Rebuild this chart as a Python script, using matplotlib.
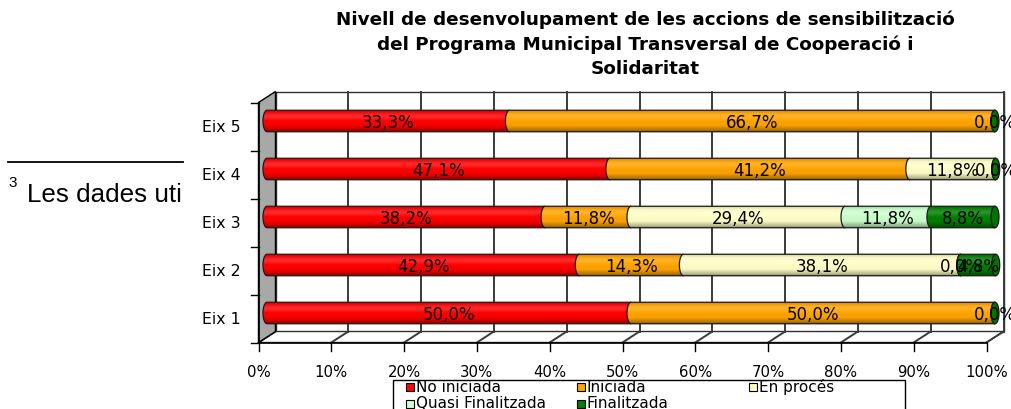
import numpy as np
import matplotlib
matplotlib.use("Agg")
import matplotlib.pyplot as plt
from matplotlib.patches import PathPatch, Polygon, Rectangle
from matplotlib.path import Path
from matplotlib.lines import Line2D
from matplotlib.colors import to_rgb

plt.rcParams['font.family'] = ['DejaVu Sans']

# ---------------- data ----------------
categories = ["Eix 1", "Eix 2", "Eix 3", "Eix 4", "Eix 5"]
series = ["No iniciada", "Iniciada", "En procés", "Quasi Finalitzada", "Finalitzada"]
no_iniciada = [50.0, 42.9, 38.2, 47.1, 33.3]
iniciada = [50.0, 14.3, 11.8, 41.2, 66.7]
en_proces = [np.nan, 38.1, 29.4, 11.8, np.nan]
quasi_finalitzada = [np.nan, 0.0, 11.8, np.nan, np.nan]
finalitzada = [0.0, 4.8, 8.8, 0.0, 0.0]
x_ticks = [0, 10, 20, 30, 40, 50, 60, 70, 80, 90, 100]
x_tick_labels = ["0%", "10%", "20%", "30%", "40%", "50%", "60%", "70%", "80%", "90%", "100%"]
title = ("Nivell de desenvolupament de les accions de sensibilització\n"
         "del Programa Municipal Transversal de Cooperació i\n"
         "Solidaritat")

colors = ["#FF0000", "#FFA500", "#FFFFC8", "#CCFFCC", "#008000"]
values = [no_iniciada, iniciada, en_proces, quasi_finalitzada, finalitzada]

# ---------------- layout ----------------
W, H = 1011, 409
fig = plt.figure(figsize=(W / 100, H / 100), dpi=100)
PX, PY = 7.28, 48.0       # pixels per x unit / per category
X0, Y0 = 267.0, 313.0     # pixel of x=0, of first category centre
xlo, xhi, ylo, yhi = -3, 102, -0.8, 4.8
ax = fig.add_axes([(X0 + xlo * PX) / W, (H - (Y0 - ylo * PY)) / H,
                   (xhi - xlo) * PX / W, (yhi - ylo) * PY / H])
ax.axis('off')

dx, dy = 8.5 / PX, 5.5 / PY
n = len(categories)
ybot, ytop = -0.5, n - 0.5
edge = '#303030'
gridc = '#3a3a3a'

# back wall
ax.add_patch(Rectangle((dx, ybot + dy), 100, ytop - ybot, facecolor='white',
                       edgecolor=edge, lw=1.0, zorder=1))
for t in x_ticks[1:]:
    ax.plot([t + dx, t + dx], [ybot + dy, ytop + dy], color=gridc, lw=1.4, zorder=1.5)
# floor
ax.add_patch(Polygon([(-dx, ybot - dy), (100 - dx, ybot - dy), (100 + dx, ybot + dy), (dx, ybot + dy)],
                     closed=True, facecolor='white', edgecolor=edge, lw=1.0, zorder=1.2))
for t in x_ticks:
    ax.plot([t - dx, t + dx], [ybot - dy, ybot + dy], color=gridc, lw=1.4, zorder=1.5)
# left wall
ax.add_patch(Polygon([(-dx, ybot - dy), (dx, ybot + dy), (dx, ytop + dy), (-dx, ytop - dy)],
                     closed=True, facecolor='#A8A8A8', edgecolor='black', lw=1.0, zorder=2))
# axes lines and ticks
ax.plot([-dx, 100 - dx], [ybot - dy, ybot - dy], color='black', lw=1.2, zorder=3, clip_on=False)
ax.plot([-dx, -dx], [ybot - dy, ytop - dy], color='black', lw=1.2, zorder=3, clip_on=False)
for t, lab in zip(x_ticks, x_tick_labels):
    ax.plot([t - dx, t - dx], [ybot - dy, ybot - dy - 0.17], color='black', lw=1.0, clip_on=False)
    ax.text(t - dx, ybot - dy - 0.62, lab, ha='center', va='center', fontsize=10.7, clip_on=False)
for k in range(n + 1):
    yy = k - 0.5 - dy
    ax.plot([-dx - 1.0, -dx], [yy, yy], color='black', lw=1.0, clip_on=False)
for i, c in enumerate(categories):
    ax.text(-3.6, i - 0.135, c, ha='right', va='center', fontsize=11.3, clip_on=False)

# ---------------- cylinders ----------------
bh = 21.5 / PY      # bar height in category units
ew = 4.0 / PX       # ellipse half width in x units
tt = np.linspace(np.pi / 2, 3 * np.pi / 2, 40)
prof_s = np.linspace(0, 1, 64)
prof = np.interp(prof_s, [0, 0.08, 0.3, 0.65, 0.85, 1.0], [0.45, 0.7, 0.97, 1.0, 0.97, 0.8])
hi = np.interp(prof_s, [0, 0.5, 0.72, 0.9, 1.0], [0, 0.0, 0.18, 0.05, 0])


def shade_img(col):
    rgb = np.array(to_rgb(col))
    arr = rgb[None, :] * prof[:, None]
    arr = arr + (1 - arr) * hi[:, None]
    img = np.ones((len(prof_s), 2, 4))
    img[:, :, :3] = arr[:, None, :]
    return np.clip(img, 0, 1)


for i in range(n):
    left = 0.0
    last_col = None
    y1, y2 = i - bh / 2, i + bh / 2
    for j, vals in enumerate(values):
        v = vals[i]
        if np.isnan(v):
            continue
        x0, x1 = left, left + v
        arc = np.column_stack([x0 + ew * np.cos(tt), i + (bh / 2) * np.sin(tt)])
        verts = np.vstack([[[x1, y2]], arc, [[x1, y1], [x1, y2]]])
        path = Path(verts, closed=True)
        zo = 4 + j * 0.1
        outline = PathPatch(path, facecolor='none', edgecolor='#1a1a1a', lw=0.9, zorder=zo + 0.05)
        ax.add_patch(outline)
        im = ax.imshow(shade_img(colors[j]), extent=(x0 - ew - 0.1, x1 + 0.1, y1, y2), origin='lower',
                       aspect='auto', interpolation='bilinear', zorder=zo)
        im.set_clip_path(outline)
        last_col = colors[j]
        left = x1
    # end cap ellipse
    te = np.linspace(0, 2 * np.pi, 60)
    cap = np.column_stack([left + ew * np.cos(te), i + (bh / 2) * np.sin(te)])
    rgb = np.array(to_rgb(last_col))
    ax.add_patch(Polygon(cap, closed=True, facecolor=rgb * 0.9, edgecolor='#1a1a1a', lw=0.9, zorder=5))
    # labels
    left = 0.0
    for j, vals in enumerate(values):
        v = vals[i]
        if np.isnan(v):
            continue
        ax.text(left + v / 2, i - 0.05, f"{v:.1f}%".replace('.', ','), ha='center', va='center',
                fontsize=12, color='black', zorder=8, clip_on=False)
        left += v

ax.set_xlim(xlo, xhi)
ax.set_ylim(ylo, yhi)

# ---------------- title ----------------
fig.text(645 / W, 1 - 44.5 / H, title, ha='center', va='center', fontsize=13.2,
         fontweight='bold', linespacing=1.45)

# ---------------- legend ----------------
def fx(p):
    return p / W


def fy(p):
    return 1 - p / H


fig.add_artist(Rectangle((fx(393), fy(412)), (905 - 393) / W, (412 - 379.5) / H,
                         transform=fig.transFigure, facecolor='white', edgecolor='black', lw=1.0))
leg_pos = [(406, 387), (577, 387), (749, 387), (406, 404), (577, 404)]
for (px, py), name, col in zip(leg_pos, series, colors):
    fig.add_artist(Rectangle((fx(px), fy(py + 4)), 8 / W, 8 / H, transform=fig.transFigure,
                             facecolor=col, edgecolor='black', lw=0.8))
    fig.text(fx(px + 10), fy(py), name, ha='left', va='center', fontsize=11)

# ---------------- footnote fragment ----------------
fig.add_artist(Line2D([fx(8), fx(183)], [fy(162), fy(162)], transform=fig.transFigure,
                      color='black', lw=1.3))
fig.text(fx(8), fy(187), "3", ha='left', va='baseline', fontsize=11, family='Liberation Sans')
fig.text(fx(27), fy(202), "Les dades uti", ha='left', va='baseline', fontsize=18.7,
         family='Liberation Sans')

fig.savefig("out.png", dpi=100)
